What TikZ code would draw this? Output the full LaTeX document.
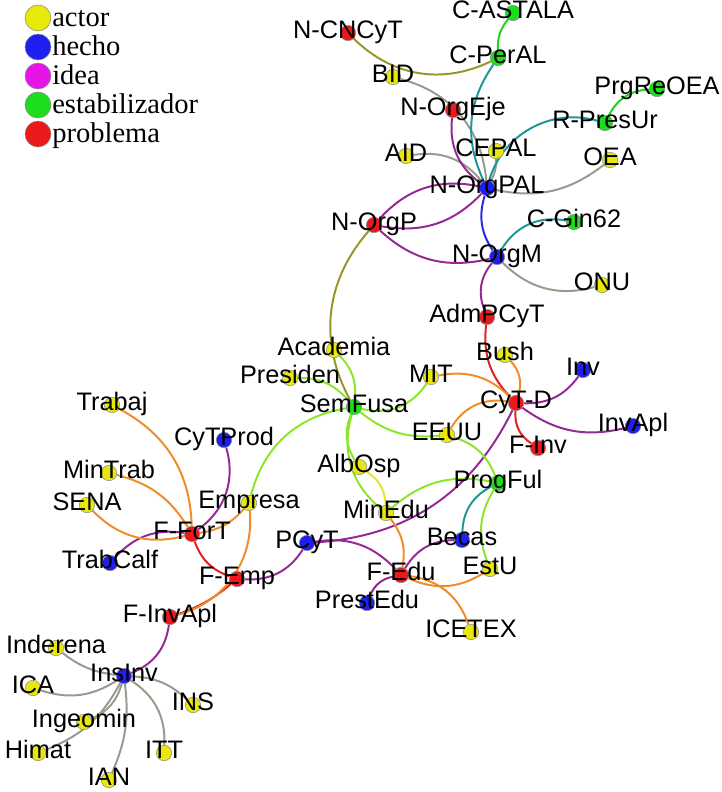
\documentclass[tikz,border=0pt]{standalone}
\usepackage{fontspec}
\setmainfont{Liberation Serif}
\setsansfont{Liberation Sans}
\usetikzlibrary{backgrounds}
\definecolor{actorc}{RGB}{232,232,10}
\definecolor{hechoc}{RGB}{30,30,240}
\definecolor{ideac}{RGB}{230,20,230}
\definecolor{estabc}{RGB}{30,220,30}
\definecolor{problemac}{RGB}{235,25,25}
\definecolor{egray}{RGB}{150,155,140}
\definecolor{eolive}{RGB}{150,150,40}
\definecolor{eteal}{RGB}{30,150,150}
\definecolor{egreen}{RGB}{30,210,30}
\definecolor{epurple}{RGB}{150,40,150}
\definecolor{eblue}{RGB}{40,40,230}
\definecolor{ered}{RGB}{230,30,30}
\definecolor{eorange}{RGB}{240,140,40}
\definecolor{elime}{RGB}{140,230,40}
\definecolor{eyellow}{RGB}{230,230,40}

\begin{document}
\begin{tikzpicture}[x=0.025cm,y=-0.025cm,
dot/.style={circle,inner sep=0pt,minimum size=0.385cm,draw=black!45,line width=0.4pt},
actor/.style={dot,fill=actorc},
hecho/.style={dot,fill=hechoc},
estab/.style={dot,fill=estabc},
problema/.style={dot,fill=problemac},
lbl/.style={font=\sffamily\fontsize{18}{18}\selectfont,inner sep=0pt,text height=12.9pt,text depth=0pt,yshift=0.09cm},
lab/.style={label={[lbl]center:#1}},
legdot/.style={circle,inner sep=0pt,minimum size=0.65cm,draw=black!45,line width=0.4pt},
legtxt/.style={font=\fontsize{20.3}{20}\selectfont,anchor=base west,inner sep=0pt},
con/.style={line width=1.4pt}]
\useasboundingbox (0,0) rectangle (722,792);

\node[legdot,fill=actorc] (lgActor) at (38,18) {};
\node[legdot,fill=hechoc] (lgHecho) at (38,47) {};
\node[legdot,fill=ideac] (lgIdea) at (38,76) {};
\node[legdot,fill=estabc] (lgEstab) at (38,105) {};
\node[legdot,fill=problemac] (lgProblema) at (38,134) {};
\node[legtxt] (txActor) at (52,26) {actor};
\node[legtxt] (txHecho) at (52,55) {hecho};
\node[legtxt] (txIdea) at (52,84) {idea};
\node[legtxt] (txEstab) at (52,113) {estabilizador};
\node[legtxt] (txProblema) at (52,142) {problema};

\node[actor,lab=BID] (BID) at (393,77) {};
\node[actor,lab=AID] (AID) at (406,156) {};
\node[actor,lab=CEPAL] (CEPAL) at (496,151) {};
\node[actor,lab=OEA] (OEA) at (610,160) {};
\node[actor,lab=ONU] (ONU) at (602,285) {};
\node[actor,lab=Academia] (Academia) at (334,350) {};
\node[actor,lab=Bush] (Bush) at (505,355) {};
\node[actor,lab=Presiden] (Presiden) at (290,378) {};
\node[actor,lab=MIT] (MIT) at (431,377) {};
\node[actor,lab=EEUU] (EEUU) at (447,435) {};
\node[actor,lab=AlbOsp] (AlbOsp) at (359,467) {};
\node[actor,lab=MinEdu] (MinEdu) at (386,513) {};
\node[actor,lab=EstU] (EstU) at (490,569) {};
\node[actor,lab=ICETEX] (ICETEX) at (471,632) {};
\node[actor,lab=Trabaj] (Trabaj) at (112,405) {};
\node[actor,lab=MinTrab] (MinTrab) at (109,473) {};
\node[actor,lab=SENA] (SENA) at (87,505) {};
\node[actor,lab=Empresa] (Empresa) at (249,503) {};
\node[actor,lab=Inderena] (Inderena) at (56,648) {};
\node[actor,lab=ICA] (ICA) at (33,688) {};
\node[actor,lab=INS] (INS) at (193,705) {};
\node[actor,lab=Ingeomin] (Ingeomin) at (84,722) {};
\node[actor,lab=Himat] (Himat) at (38,753) {};
\node[actor,lab=ITT] (ITT) at (164,753) {};
\node[actor,lab=IAN] (IAN) at (109,780) {};

\node[hecho,lab=N-OrgPAL] (NOrgPAL) at (487,188) {};
\node[hecho,lab=N-OrgM] (NOrgM) at (497,257) {};
\node[hecho,lab=Inv] (Inv) at (583,370) {};
\node[hecho,lab=InvApl] (InvApl) at (633,426) {};
\node[hecho,lab=Becas] (Becas) at (462,540) {};
\node[hecho,lab=PrestEdu] (PrestEdu) at (367,603) {};
\node[hecho,lab=PCyT] (PCyT) at (307,543) {};
\node[hecho,lab=CyTProd] (CyTProd) at (224,440) {};
\node[hecho,lab=TrabCalf] (TrabCalf) at (110,563) {};
\node[hecho,lab=InsInv] (InsInv) at (124,676) {};

\node[estab,lab=C-ASTALA] (CASTALA) at (513,13) {};
\node[estab,lab=C-PerAL] (CPerAL) at (498,58) {};
\node[estab,lab=PrgReOEA] (PrgReOEA) at (657,89) {};
\node[estab,lab=R-PresUr] (RPresUr) at (605,123) {};
\node[estab,lab=C-Gin62] (CGin62) at (574,222) {};
\node[estab,lab=SemFusa] (SemFusa) at (354,407) {};
\node[estab,lab=ProgFul] (ProgFul) at (498,483) {};

\node[problema,lab=N-CNCyT] (NCNCyT) at (348,33) {};
\node[problema,lab=N-OrgEje] (NOrgEje) at (453,110) {};
\node[problema,lab=N-OrgP] (NOrgP) at (374,225) {};
\node[problema,lab=AdmPCyT] (AdmPCyT) at (487,317) {};
\node[problema,lab=CyT-D] (CyTD) at (516,403) {};
\node[problema,lab=F-Inv] (FInv) at (538,448) {};
\node[problema,lab=F-Edu] (FEdu) at (401,575) {};
\node[problema,lab=F-ForT] (FForT) at (192,534) {};
\node[problema,lab=F-Emp] (FEmp) at (237,579) {};
\node[problema,lab=F-InvApl] (FInvApl) at (170,617) {};

\begin{scope}[on background layer]
\draw[con,egray] (BID) to[bend left=35] (NOrgPAL);
\draw[con,egray] (CEPAL) to[bend left=15] (NOrgPAL);
\draw[con,egray] (AID) to[bend left=30] (NOrgPAL);
\draw[con,egray] (OEA) to[bend left=25] (NOrgPAL);
\draw[con,egray] (NOrgM) to[bend right=30] (ONU);
\draw[con,egray] (Inderena) to[bend right=15] (InsInv);
\draw[con,egray] (ICA) to[bend right=25] (InsInv);
\draw[con,egray] (INS) to[bend right=20] (InsInv);
\draw[con,egray] (Ingeomin) to[bend right=25] (InsInv);
\draw[con,egray] (Himat) to[bend right=20] (InsInv);
\draw[con,egray] (ITT) to[bend right=30] (InsInv);
\draw[con,egray] (IAN) to[bend right=15] (InsInv);

\draw[con,eolive] (NCNCyT) to[bend right=35] (CPerAL);
\draw[con,eolive] (NOrgP) to[bend right=35] (SemFusa);

\draw[con,eteal] (CPerAL) to[bend right=30] (NOrgPAL);
\draw[con,eteal] (RPresUr) to[bend right=45] (NOrgPAL);
\draw[con,eteal] (NOrgM) to[bend left=35] (CGin62);
\draw[con,eteal] (ProgFul) to[bend right=30] (Becas);

\draw[con,egreen] (CASTALA) to[bend right=20] (CPerAL);
\draw[con,egreen] (PrgReOEA) to[bend right=30] (RPresUr);

\draw[con,epurple] (NOrgEje) to[bend right=30] (NOrgPAL);
\draw[con,epurple] (NOrgP) to[bend left=30] (NOrgPAL);
\draw[con,epurple] (NOrgP) to[bend right=28] (NOrgPAL);
\draw[con,epurple] (NOrgP) to[bend right=28] (NOrgM);
\draw[con,epurple] (NOrgM) to[bend right=30] (AdmPCyT);
\draw[con,epurple] (CyTD) to[bend right=28] (Inv);
\draw[con,epurple] (CyTD) to[bend right=25] (InvApl);
\draw[con,epurple] (CyTD) to[bend left=30] (PCyT);
\draw[con,epurple] (FEdu) to[bend right=28] (PCyT);
\draw[con,epurple] (FEmp) to[bend right=30] (PCyT);
\draw[con,epurple] (CyTProd) to[bend left=35] (FForT);
\draw[con,epurple] (TrabCalf) to[bend left=28] (FForT);
\draw[con,epurple] (FInvApl) to[bend left=30] (InsInv);
\draw[con,epurple] (Becas) to[bend right=29] (FEdu);
\draw[con,epurple] (FEdu) to[bend right=28] (PrestEdu);

\draw[con,eblue] (NOrgPAL) to[bend right=25] (NOrgM);

\draw[con,ered] (AdmPCyT) to[bend right=25] (CyTD);
\draw[con,ered] (CyTD) to[bend right=30] (FInv);
\draw[con,ered] (FForT) to[bend right=25] (FEmp);
\draw[con,ered] (FEmp) to[bend left=10] (FInvApl);

\draw[con,eorange] (Bush) to[bend left=30] (CyTD);
\draw[con,eorange] (MIT) to[bend left=28] (CyTD);
\draw[con,eorange] (EEUU) to[bend left=35] (CyTD);
\draw[con,eorange] (Empresa) to[bend left=40] (FInvApl);
\draw[con,eorange] (Empresa) to[bend left=20] (FForT);
\draw[con,eorange] (Trabaj) to[bend left=30] (FForT);
\draw[con,eorange] (MinTrab) to[bend left=22] (FForT);
\draw[con,eorange] (SENA) to[bend right=30] (FForT);
\draw[con,eorange] (MinEdu) to[bend left=24] (FEdu);
\draw[con,eorange] (FEdu) to[bend right=28] (EstU);
\draw[con,eorange] (FEdu) to[bend left=32] (ICETEX);

\draw[con,elime] (SemFusa) to[bend right=33] (Empresa);
\draw[con,elime] (Academia) to[bend left=25] (SemFusa);
\draw[con,elime] (Presiden) to[bend left=25] (SemFusa);
\draw[con,elime] (MIT) to[bend left=35] (SemFusa);
\draw[con,elime] (SemFusa) to[bend right=22] (EEUU);
\draw[con,elime] (SemFusa) to[bend right=27] (AlbOsp);
\draw[con,elime] (SemFusa) to[bend right=33] (MinEdu);
\draw[con,elime] (ProgFul) to[bend right=26] (MinEdu);
\draw[con,elime] (EEUU) to[bend left=25] (ProgFul);
\draw[con,elime] (ProgFul) to[bend right=26] (EstU);

\draw[con,eyellow] (AlbOsp) to[bend left=28] (MinEdu);
\end{scope}
\end{tikzpicture}
\end{document}
